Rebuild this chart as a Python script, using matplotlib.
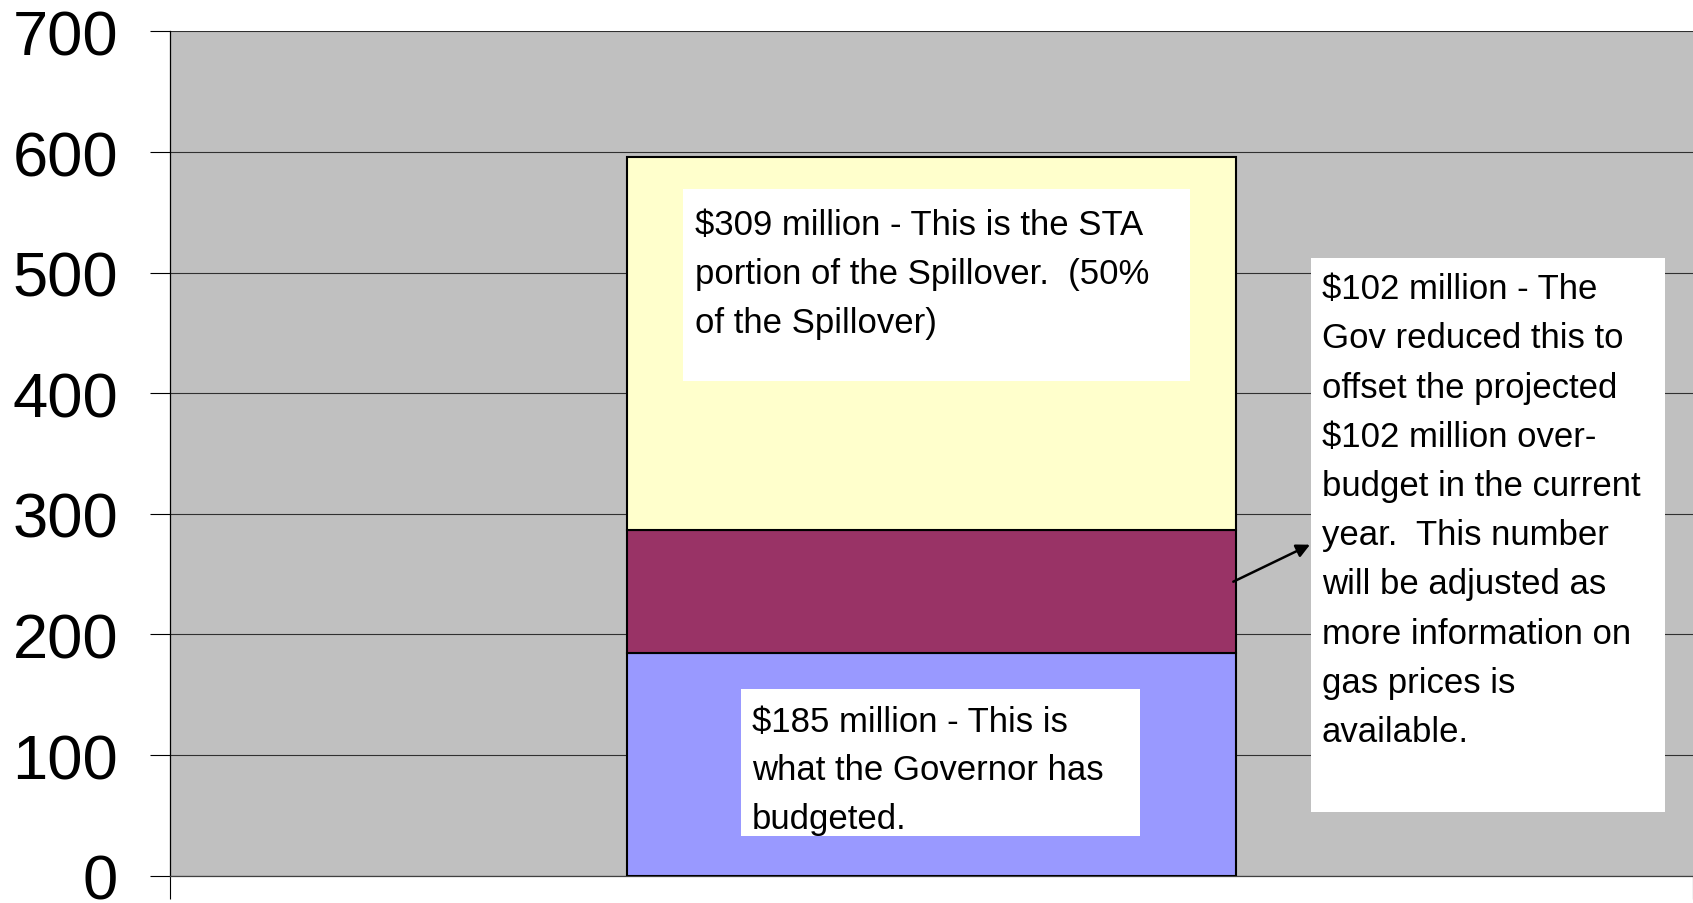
import matplotlib
matplotlib.use("Agg")
import matplotlib.pyplot as plt
from matplotlib.patches import Rectangle
import numpy as np

# ---- data ----
categories = [0]
governor_budgeted = [185]
gov_reduced = [102]
sta_spillover = [309]
series_colors = ["#9999FF", "#993366", "#FFFFCC"]
y_ticks = [0, 100, 200, 300, 400, 500, 600, 700]

text_sta = ["$309 million - This is the STA",
            "portion of the Spillover.  (50%",
            "of the Spillover)"]
text_gov = ["$102 million - The",
            "Gov reduced this to",
            "offset the projected",
            "$102 million over-",
            "budget in the current",
            "year.  This number",
            "will be adjusted as",
            "more information on",
            "gas prices is",
            "available."]
text_budget = ["$185 million - This is",
               "what the Governor has",
               "budgeted."]

W, H = 1693, 904
plt.rcParams['font.family'] = ['Liberation Sans', 'DejaVu Sans']

fig = plt.figure(figsize=(W / 100, H / 100), dpi=100)
ax = fig.add_axes([170 / W, (H - 876.7) / H, (W - 170) / W, (876.7 - 32.4) / H])
ax.set_facecolor("#C0C0C0")

x = np.array(categories)
b1 = np.array(governor_budgeted)
b2 = np.array(gov_reduced)
b3 = np.array(sta_spillover)
kw = dict(width=0.8, edgecolor="black", linewidth=1.5, zorder=3)
ax.bar(x, b1, color=series_colors[0], **kw)
ax.bar(x, b2, bottom=b1, color=series_colors[1], **kw)
ax.bar(x, b3, bottom=b1 + b2, color=series_colors[2], **kw)

ax.set_xlim(-1, 1)
ax.set_ylim(0, 700)
ax.set_yticks(y_ticks)
ax.set_yticklabels([str(t) for t in y_ticks], fontsize=45.5)
ax.tick_params(axis='y', length=14.4, width=0.8, pad=23, color='black')
ax.set_xticks([-1, 1])
ax.set_xticklabels([])
ax.tick_params(axis='x', length=16.5, width=0.8, color='black')
ax.grid(axis='y', color='#303030', linewidth=0.8, zorder=1)
ax.set_axisbelow(True)
for s in ['top', 'right']:
    ax.spines[s].set_visible(False)
ax.spines['left'].set_color('black')
ax.spines['left'].set_linewidth(0.9)
ax.spines['bottom'].set_color('#404040')
ax.spines['bottom'].set_linewidth(0.9)


def fx(px):
    return px / W


def fy(py):
    return 1 - py / H


def box(x0, y0, x1, y1):
    fig.patches.append(Rectangle((fx(x0), fy(y1)), (x1 - x0) / W, (y1 - y0) / H,
                                 transform=fig.transFigure, facecolor='white',
                                 edgecolor='none', zorder=5))


def lines(x0, base0, step, texts):
    for i, t in enumerate(texts):
        fig.text(fx(x0), fy(base0 + i * step), t, ha='left', va='baseline',
                 fontsize=25, color='black', zorder=6)


box(683, 190, 1190, 381.7)
lines(695, 235, 49.2, text_sta)
box(1311, 259, 1665, 813.3)
lines(1321.7, 299.3, 49.2, text_gov)
box(741, 690, 1140, 837)
lines(751.7, 731.7, 48.6, text_budget)

ax.annotate('', xy=(1310, H - 545.7), xytext=(1233.3, H - 582.7),
            xycoords='figure pixels', textcoords='figure pixels',
            arrowprops=dict(arrowstyle='-|>', lw=1.8, color='black',
                            mutation_scale=20, shrinkA=0, shrinkB=0))

fig.savefig("out.png", dpi=100)
